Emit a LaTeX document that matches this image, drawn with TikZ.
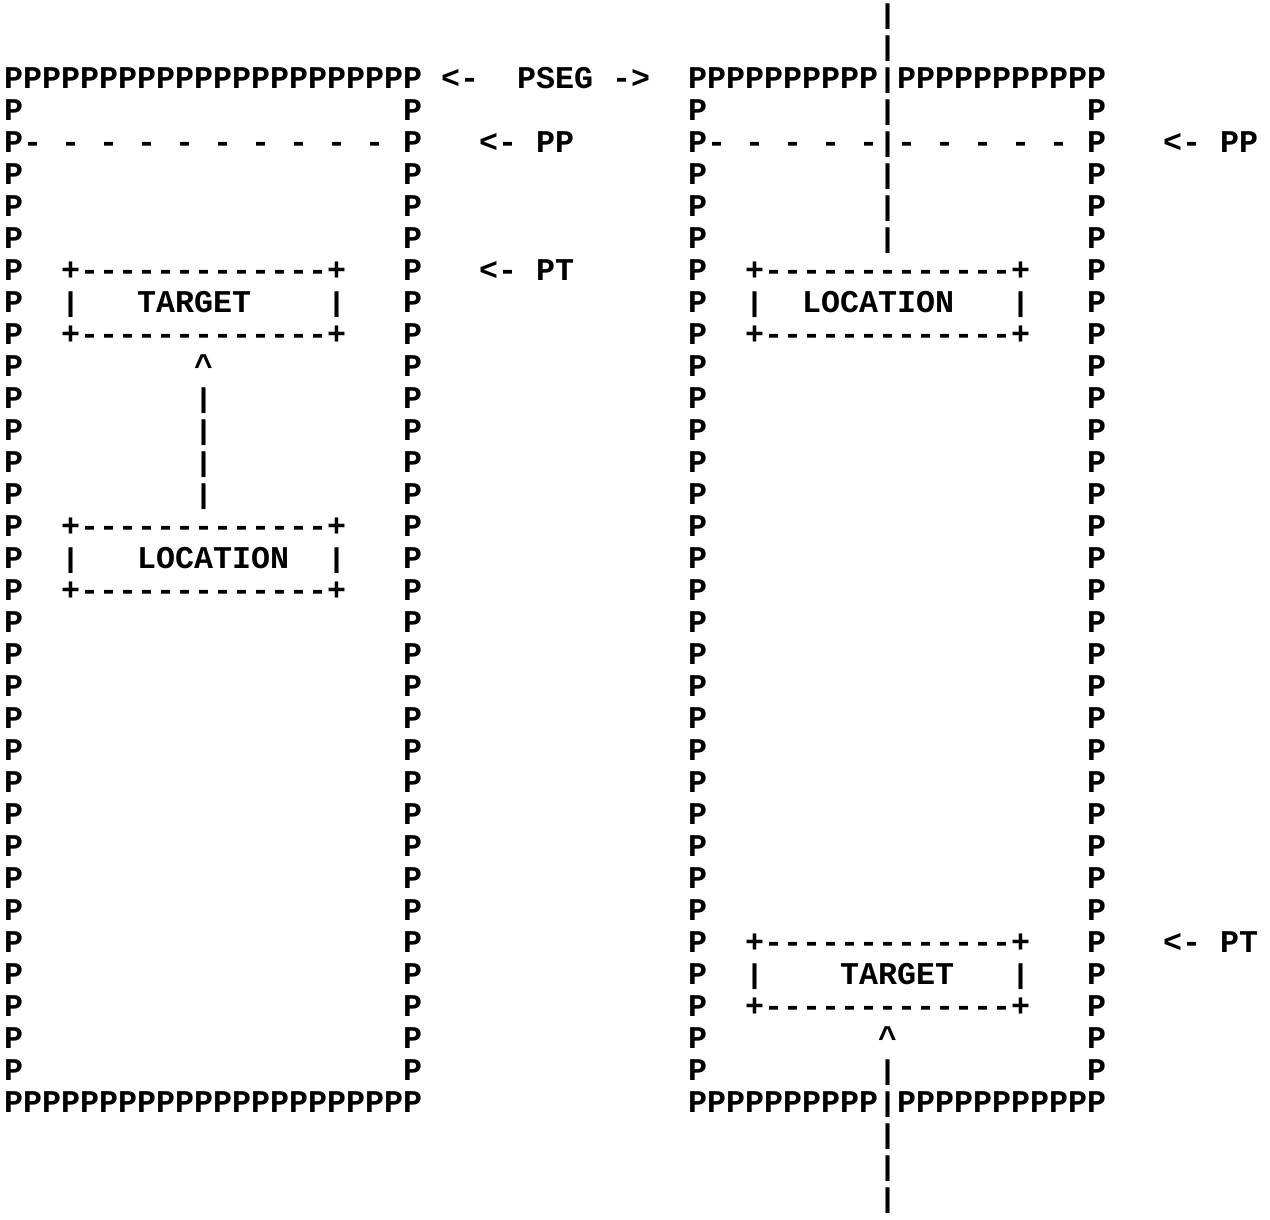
\documentclass[tikz,border=0pt]{standalone}
\usepackage{fontspec}
\setmonofont{Liberation Mono}
\usepackage{tikz}

\newcommand{\tbar}{\raisebox{0.4pt}{\scalebox{1}[0.86]{|}}}
\tikzset{tw/.style={font=\ttfamily\bfseries\fontsize{9}{9}\selectfont, inner sep=0pt, text height=5.1pt, text depth=0pt, anchor=west, xshift=-2.7pt}}

\begin{document}
\begin{tikzpicture}[x=5.4pt,y=9.0947pt]
\useasboundingbox (-0.684,2.5) rectangle (66.158,-35.594);

%%%%%%%%%%%%%%%%%%Draw Left Page Frame%%%%%%%%%%%%%%%%%%
\node[tw] (ltop) at (0,0) {PPPPPPPPPPPPPPPPPPPPPP};
\node[tw] (lbot) at (0,-32) {PPPPPPPPPPPPPPPPPPPPPP};
\foreach \r in {1,...,31}
{
  \node[tw] (lw-\r) at (0,-\r) {P};
  \node[tw] (le-\r) at (21,-\r) {P};
}
\node[tw] (lpp) at (1,-2) {- - - - - - - - - -};

%%%%%%%%%%%%%%%Draw Left Target and Location%%%%%%%%%%%%%%
\node[tw] (ltgt-a) at (3,-6) {+-------------+};
\node[tw] (ltgt-b) at (3,-7) {\tbar};
\node[tw] (ltgt) at (7,-7) {TARGET};
\node[tw] (ltgt-c) at (17,-7) {\tbar};
\node[tw] (ltgt-d) at (3,-8) {+-------------+};

\node[tw] (lup) at (10,-9) {\textasciicircum};
\foreach \r in {10,...,13}
  \node[tw] (lbar-\r) at (10,-\r) {\tbar};

\node[tw] (lloc-a) at (3,-14) {+-------------+};
\node[tw] (lloc-b) at (3,-15) {\tbar};
\node[tw] (lloc) at (7,-15) {LOCATION};
\node[tw] (lloc-c) at (17,-15) {\tbar};
\node[tw] (lloc-d) at (3,-16) {+-------------+};

%%%%%%%%%%%%%%%%%%%%Labels In Between%%%%%%%%%%%%%%%%%%%%
\node[tw] (pseg) at (23,0) {<-\ \ PSEG ->};
\node[tw] (lpplab) at (25,-2) {<- PP};
\node[tw] (lptlab) at (25,-6) {<- PT};

%%%%%%%%%%%%%%%%%%Draw Right Page Frame%%%%%%%%%%%%%%%%%%
\node[tw] (rtop) at (36,0) {PPPPPPPPPP\tbar PPPPPPPPPPP};
\node[tw] (rbot) at (36,-32) {PPPPPPPPPP\tbar PPPPPPPPPPP};
\foreach \r in {1,...,31}
{
  \node[tw] (rw-\r) at (36,-\r) {P};
  \node[tw] (re-\r) at (57,-\r) {P};
}
\node[tw] (rpp-a) at (37,-2) {- - - - -};
\node[tw] (rpp-b) at (47,-2) {- - - - -};

%%%%%%%%%%%%%%%%%Draw The Through Line%%%%%%%%%%%%%%%%%%%
\foreach \r in {2,1,-1,-2,-3,-4,-5}
  \node[tw] (rbar-\r) at (46,\r) {\tbar};
\foreach \r in {31,33,34,35}
  \node[tw] (rdown-\r) at (46,-\r) {\tbar};
\node[tw] (rup) at (46,-30) {\textasciicircum};

%%%%%%%%%%%%%%Draw Right Location and Target%%%%%%%%%%%%%%
\node[tw] (rloc-a) at (39,-6) {+-------------+};
\node[tw] (rloc-b) at (39,-7) {\tbar};
\node[tw] (rloc) at (42,-7) {LOCATION};
\node[tw] (rloc-c) at (53,-7) {\tbar};
\node[tw] (rloc-d) at (39,-8) {+-------------+};

\node[tw] (rtgt-a) at (39,-27) {+-------------+};
\node[tw] (rtgt-b) at (39,-28) {\tbar};
\node[tw] (rtgt) at (44,-28) {TARGET};
\node[tw] (rtgt-c) at (53,-28) {\tbar};
\node[tw] (rtgt-d) at (39,-29) {+-------------+};

\node[tw] (rpplab) at (61,-2) {<- PP};
\node[tw] (rptlab) at (61,-27) {<- PT};

\end{tikzpicture}
\end{document}
